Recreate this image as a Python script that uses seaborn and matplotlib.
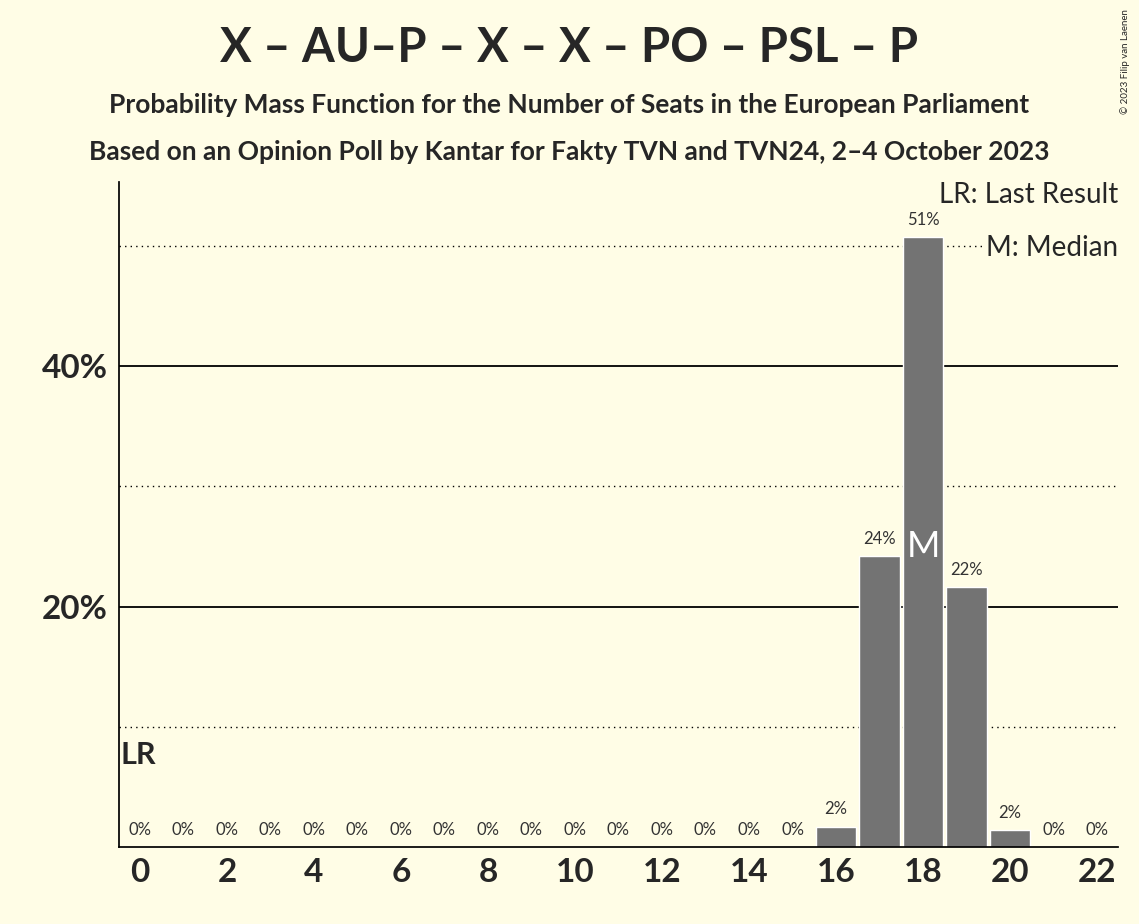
import numpy as np
import pandas as pd
import seaborn as sns
import matplotlib.pyplot as plt

seats = list(range(23))
probs = [0]*16 + [1.7, 24.2, 50.7, 21.6, 1.4, 0, 0]
labels = ["0%"]*16 + ["2%", "24%", "51%", "22%", "2%", "0%", "0%"]
last_result = 0
median = 18

bg = "#FFFDE6"
sns.set_theme(style="white")
plt.rcParams['font.family'] = ['Lato', 'DejaVu Sans']

fig = plt.figure(figsize=(11.39, 9.24), dpi=100, facecolor=bg)
ax = fig.add_axes([0.1045, 0.083, 0.877, 0.72])
ax.set_facecolor(bg)

df = pd.DataFrame({"seats": seats, "p": probs})
for y in [10, 30, 50]:
    ax.axhline(y, color="black", lw=1, ls=(0, (1, 3)), zorder=0)
for y in [20, 40]:
    ax.axhline(y, color="black", lw=1.3, zorder=0)

ax.bar(df["seats"], df["p"], width=0.93, color="#737373", zorder=2)
for s, p, l in zip(seats, probs, labels):
    ax.text(s, p + 0.8, l, ha="center", va="bottom", fontsize=12, color="#333333", zorder=3)
ax.text(median, 25, "M", ha="center", va="center", fontsize=26, color="white", zorder=3)
ax.text(last_result - 0.45, 6.5, "LR", ha="left", va="bottom", fontsize=22, fontweight="bold", zorder=3)

ax.set_xlim(-0.48, 22.48)
ax.set_ylim(0, 55.3)
ax.set_xticks(range(0, 23, 2))
ax.set_xticklabels([str(x) for x in range(0, 23, 2)], fontsize=24, fontweight="bold")
ax.set_yticks([20, 40])
ax.set_yticklabels(["20%", "40%"], fontsize=24, fontweight="bold")
ax.tick_params(length=0, pad=8)
for side in ["top", "right"]:
    ax.spines[side].set_visible(False)
ax.spines["left"].set_color("black")
ax.spines["bottom"].set_color("black")

ax.text(1.0, 1.0, "LR: Last Result", transform=ax.transAxes, ha="right", va="top", fontsize=20, zorder=4)
ax.text(1.0, 0.92, "M: Median", transform=ax.transAxes, ha="right", va="top", fontsize=20, zorder=4,
        bbox=dict(facecolor=bg, edgecolor="none", pad=1))

fig.text(0.5, 0.948, "X – AU–P – X – X – PO – PSL – P", ha="center", va="center", fontsize=34, fontweight="bold")
fig.text(0.5, 0.886, "Probability Mass Function for the Number of Seats in the European Parliament",
         ha="center", va="center", fontsize=19, fontweight="bold")
fig.text(0.5, 0.835, "Based on an Opinion Poll by Kantar for Fakty TVN and TVN24, 2–4 October 2023",
         ha="center", va="center", fontsize=19, fontweight="bold")
fig.text(0.992, 0.99, "© 2023 Filip van Laenen", rotation=90, ha="right", va="top", fontsize=7)

fig.savefig("out.png", dpi=100, facecolor=bg)
